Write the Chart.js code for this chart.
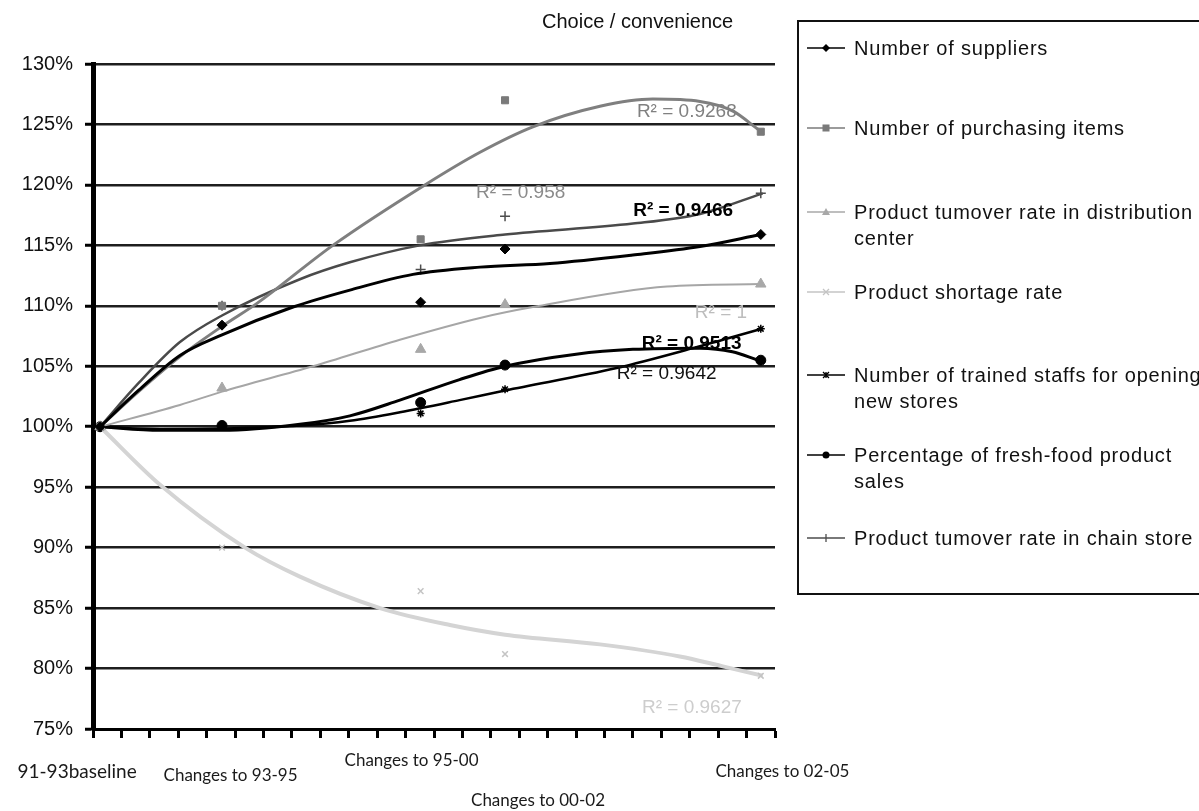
<!DOCTYPE html>
<html>
<head>
<meta charset="utf-8">
<script src="https://cdn.jsdelivr.net/npm/chart.js@4.4.1/dist/chart.umd.min.js"></script>
<style>
html, body { margin: 0; padding: 0; background: #fff; overflow: hidden; }
#wrap { position: relative; width: 1199px; height: 811px; overflow: hidden; }
#chart { position: absolute; left: 0; top: 0; }
#title { position: absolute; left: 542px; top: 10px; font: 20px "Liberation Sans", Arial, sans-serif; color: #111; white-space: nowrap; }
#legend { position: absolute; left: 797px; top: 20px; width: 440px; height: 571px; border: 2px solid #111; box-sizing: content-box; }
.item { position: absolute; left: 0; width: 440px; }
.item svg { position: absolute; left: 8px; top: 6px; }
.item span { position: absolute; left: 55px; top: 0; width: 372px; font: 20px/26px "Liberation Sans", Arial, sans-serif; letter-spacing: 0.8px; color: #111; }
</style>
</head>
<body>
<div id="wrap">
  <canvas id="chart" width="1199" height="811"></canvas>
  <div id="title">Choice / convenience</div>
  <div id="legend"></div>
</div>
<script>
// categories and where they sit on the x axis
const categories = ['91-93baseline', 'Changes to 93-95', 'Changes to 95-00', 'Changes to 00-02', 'Changes to 02-05'];
const catX = [0.25, 4.54, 11.53, 14.5, 23.5];

const seriesNames = [
  'Number of suppliers',
  'Number of purchasing items',
  'Product tumover rate in distribution center',
  'Product shortage rate',
  'Number of trained staffs for opening new stores',
  'Percentage of fresh-food product sales',
  'Product tumover rate in chain store'
];

// marker values (%)
const suppliers      = [100, 108.4, 110.3, 114.7, 115.9];
const purchasing     = [100, 110.0, 115.5, 127.0, 124.4];
const distTurnover   = [100, 103.2, 106.4, 110.1, 111.8];
const shortage       = [100, 90.0, 86.4, 81.2, 79.4];
const trainedStaffs  = [100, 100.0, 101.1, 103.1, 108.1];
const freshFood      = [100, 100.1, 102.0, 105.1, 105.5];
const chainTurnover  = [100, 110.0, 113.0, 117.4, 119.3];

// trendlines [x, %]
const suppliersTrend = [[0.25,100],[1.6,103.0],[3.06,105.9],[4.54,107.6],[7.04,109.9],[9.04,111.3],[11.26,112.6],[13.62,113.2],[16.08,113.5],[19.0,114.2],[21.36,114.9],[23.5,115.9]];
const purchasingTrend = [[0.25,100],[1.6,102.9],[3.06,105.8],[4.54,108.3],[5.77,110.2],[8.44,115],[11.68,120],[13.62,122.7],[15.48,124.8],[17.84,126.5],[19.7,127.1],[21.36,126.9],[22.52,126.1],[23.4,124.6]];
const distTrend = [[0.25,100],[3.06,101.8],[4.54,102.9],[7.74,105.0],[10.8,107.2],[13.62,109.0],[15.48,109.9],[20.2,111.6],[23.5,111.8]];
const shortageTrend = [[0.25,100],[2.36,95.2],[5.35,90],[7.28,87.6],[10.1,85.0],[12.56,83.6],[14.5,82.8],[17.84,82.0],[20.65,81.0],[22.13,80.2],[23.57,79.4]];
const staffsTrend = [[0.25,100],[2.36,99.8],[4.54,99.85],[7.28,100.1],[9.04,100.5],[10.8,101.2],[12.9,102.2],[14.5,103.0],[18.43,104.85],[21.12,106.5],[23.53,108.1]];
const freshTrend = [[0.25,100],[2.36,99.7],[4.54,99.7],[7.28,100.2],[9.04,100.9],[10.8,102.2],[12.9,103.9],[14.5,105.0],[17,106.0],[19.0,106.4],[21.36,106.5],[22.5,106.2],[23.4,105.5]];
const chainTrend = [[0.25,100],[1.6,103.6],[3.06,107.0],[4.54,109.2],[7.28,112.2],[9.04,113.6],[11.5,115.0],[14.5,115.9],[19.0,116.8],[21.36,117.6],[23.57,119.3]];

const yTicks = [75, 80, 85, 90, 95, 100, 105, 110, 115, 120, 125, 130];

// R² labels: text and anchor (x, %)
const r2Text = ['R² = 0.9268', 'R² = 0.958', 'R² = 0.9466', 'R² = 1', 'R² = 0.9513', 'R² = 0.9642', 'R² = 0.9627'];
const r2At = [[19.14,126.05],[13.48,119.35],[19.01,117.84],[21.18,109.4],[19.31,106.9],[18.43,104.36],[19.32,76.73]];
const r2Style = [
  {color:'#808080', bold:false},
  {color:'#8a8a8a', bold:false},
  {color:'#000', bold:true},
  {color:'#bdbdbd', bold:false},
  {color:'#000', bold:true},
  {color:'#111', bold:false},
  {color:'#cdcdcd', bold:false}
];

const looks = [
  {color:'#000',    trend:'#000',    tw:3,   style:'rectRot',  r:5, bw:1},
  {color:'#7a7a7a', trend:'#7f7f7f', tw:3,   style:'rect',     r:5, bw:1},
  {color:'#a8a8a8', trend:'#a6a6a6', tw:2,   style:'triangle', r:6, bw:1},
  {color:'#c4c4c4', trend:'#d4d4d4', tw:4,   style:'crossRot', r:4, bw:1.5},
  {color:'#000',    trend:'#000',    tw:2.5, style:'star',     r:4, bw:1.5},
  {color:'#000',    trend:'#000',    tw:3,   style:'circle',   r:5, bw:1},
  {color:'#4d4d4d', trend:'#4a4a4a', tw:2.5, style:'cross',    r:5, bw:1.5}
];

const values = [suppliers, purchasing, distTurnover, shortage, trainedStaffs, freshFood, chainTurnover];
const trends = [suppliersTrend, purchasingTrend, distTrend, shortageTrend, staffsTrend, freshTrend, chainTrend];

const datasets = [];
values.forEach((vals, i) => {
  const lk = looks[i];
  datasets.push({
    label: seriesNames[i],
    data: vals.map((v, j) => ({x: catX[j], y: v})),
    showLine: false,
    pointStyle: lk.style,
    pointRadius: lk.r,
    pointBackgroundColor: lk.color,
    pointBorderColor: lk.color,
    pointBorderWidth: lk.bw
  });
  datasets.push({
    label: seriesNames[i] + ' trend',
    data: trends[i].map(p => ({x: p[0], y: p[1]})),
    showLine: true,
    pointRadius: 0,
    borderColor: lk.trend,
    borderWidth: lk.tw,
    cubicInterpolationMode: 'monotone',
    fill: false
  });
});

const textPlugin = {
  id: 'textPlugin',
  afterDatasetsDraw(chart) {
    const ctx = chart.ctx, xs = chart.scales.x, ys = chart.scales.y;
    ctx.save();
    ctx.textBaseline = 'middle';
    ctx.textAlign = 'left';
    r2Text.forEach((t, i) => {
      ctx.font = (r2Style[i].bold ? 'bold ' : '') + '19px "Liberation Sans", Arial, sans-serif';
      ctx.fillStyle = r2Style[i].color;
      ctx.fillText(t, xs.getPixelForValue(r2At[i][0]), ys.getPixelForValue(r2At[i][1]));
    });
    ctx.restore();
  },
  afterDraw(chart) {
    // category names under the axis
    const ctx = chart.ctx, xs = chart.scales.x, bottom = chart.chartArea.bottom;
    const labelX = [-0.56, 4.84, 11.21, 15.66, 24.26];
    const labelDy = [43, 47, 32, 72, 43];
    ctx.save();
    ctx.fillStyle = '#1a1a1a';
    ctx.textAlign = 'center';
    ctx.textBaseline = 'middle';
    categories.forEach((c, i) => {
      ctx.font = (i === 0 ? '19px' : '17px') + ' Lato, "Open Sans", sans-serif';
      ctx.fillText(c, xs.getPixelForValue(labelX[i]), bottom + labelDy[i]);
    });
    ctx.restore();
  }
};

new Chart(document.getElementById('chart'), {
  type: 'scatter',
  data: { datasets: datasets },
  options: {
    responsive: false,
    animation: false,
    devicePixelRatio: 1,
    layout: { padding: { left: 0, top: 64, right: 424, bottom: 0 } },
    plugins: { legend: { display: false }, tooltip: { enabled: false } },
    scales: {
      x: {
        type: 'linear', min: 0, max: 24,
        ticks: { stepSize: 1, display: false },
        grid: { drawOnChartArea: false, drawTicks: true, tickLength: 9, tickWidth: 3, tickColor: '#000' },
        border: { display: true, width: 3, color: '#000' },
        afterFit(scale) { scale.height = 82; }
      },
      y: {
        type: 'linear', min: 75, max: 130,
        afterBuildTicks(scale) { scale.ticks = yTicks.map(v => ({value: v})); },
        ticks: {
          padding: 12, color: '#111',
          font: { family: '"Liberation Sans", Arial, sans-serif', size: 20 },
          callback: v => v + '%'
        },
        grid: { color: '#1e1e1e', lineWidth: 2.5, tickLength: 8, tickWidth: 3, tickColor: '#000' },
        border: { display: true, width: 5, color: '#000' },
        afterFit(scale) { scale.width = 93; }
      }
    }
  },
  plugins: [textPlugin]
});

// legend box on the right
const legendY = [47.7, 128, 211.7, 291.7, 375, 455, 538.3];
function markerSvg(lk) {
  const c = lk.color, cx = 19, cy = 7;
  let m = '';
  if (lk.style === 'rectRot') m = `<polygon points="${cx},${cy-4} ${cx+4},${cy} ${cx},${cy+4} ${cx-4},${cy}" fill="${c}"/>`;
  if (lk.style === 'rect') m = `<rect x="${cx-3.5}" y="${cy-3.5}" width="7" height="7" fill="${c}"/>`;
  if (lk.style === 'triangle') m = `<polygon points="${cx},${cy-4} ${cx+4},${cy+3} ${cx-4},${cy+3}" fill="${c}"/>`;
  if (lk.style === 'crossRot') m = `<path d="M${cx-3} ${cy-3}L${cx+3} ${cy+3}M${cx+3} ${cy-3}L${cx-3} ${cy+3}" stroke="${c}" stroke-width="1.3"/>`;
  if (lk.style === 'star') m = `<path d="M${cx-3} ${cy-3}L${cx+3} ${cy+3}M${cx+3} ${cy-3}L${cx-3} ${cy+3}M${cx} ${cy-3}L${cx} ${cy+3}" stroke="${c}" stroke-width="1.3"/>`;
  if (lk.style === 'circle') m = `<circle cx="${cx}" cy="${cy}" r="3.5" fill="${c}"/>`;
  if (lk.style === 'cross') m = `<path d="M${cx} ${cy-4}L${cx} ${cy+4}" stroke="${c}" stroke-width="1.3"/>`;
  return `<svg width="40" height="14"><line x1="0" y1="${cy}" x2="38" y2="${cy}" stroke="${c}" stroke-width="1.6"/>${m}</svg>`;
}
const legend = document.getElementById('legend');
seriesNames.forEach((name, i) => {
  const d = document.createElement('div');
  d.className = 'item';
  d.style.top = (legendY[i] - 13 - 22) + 'px';
  d.innerHTML = markerSvg(looks[i]) + '<span>' + name + '</span>';
  legend.appendChild(d);
});
</script>
</body>
</html>
